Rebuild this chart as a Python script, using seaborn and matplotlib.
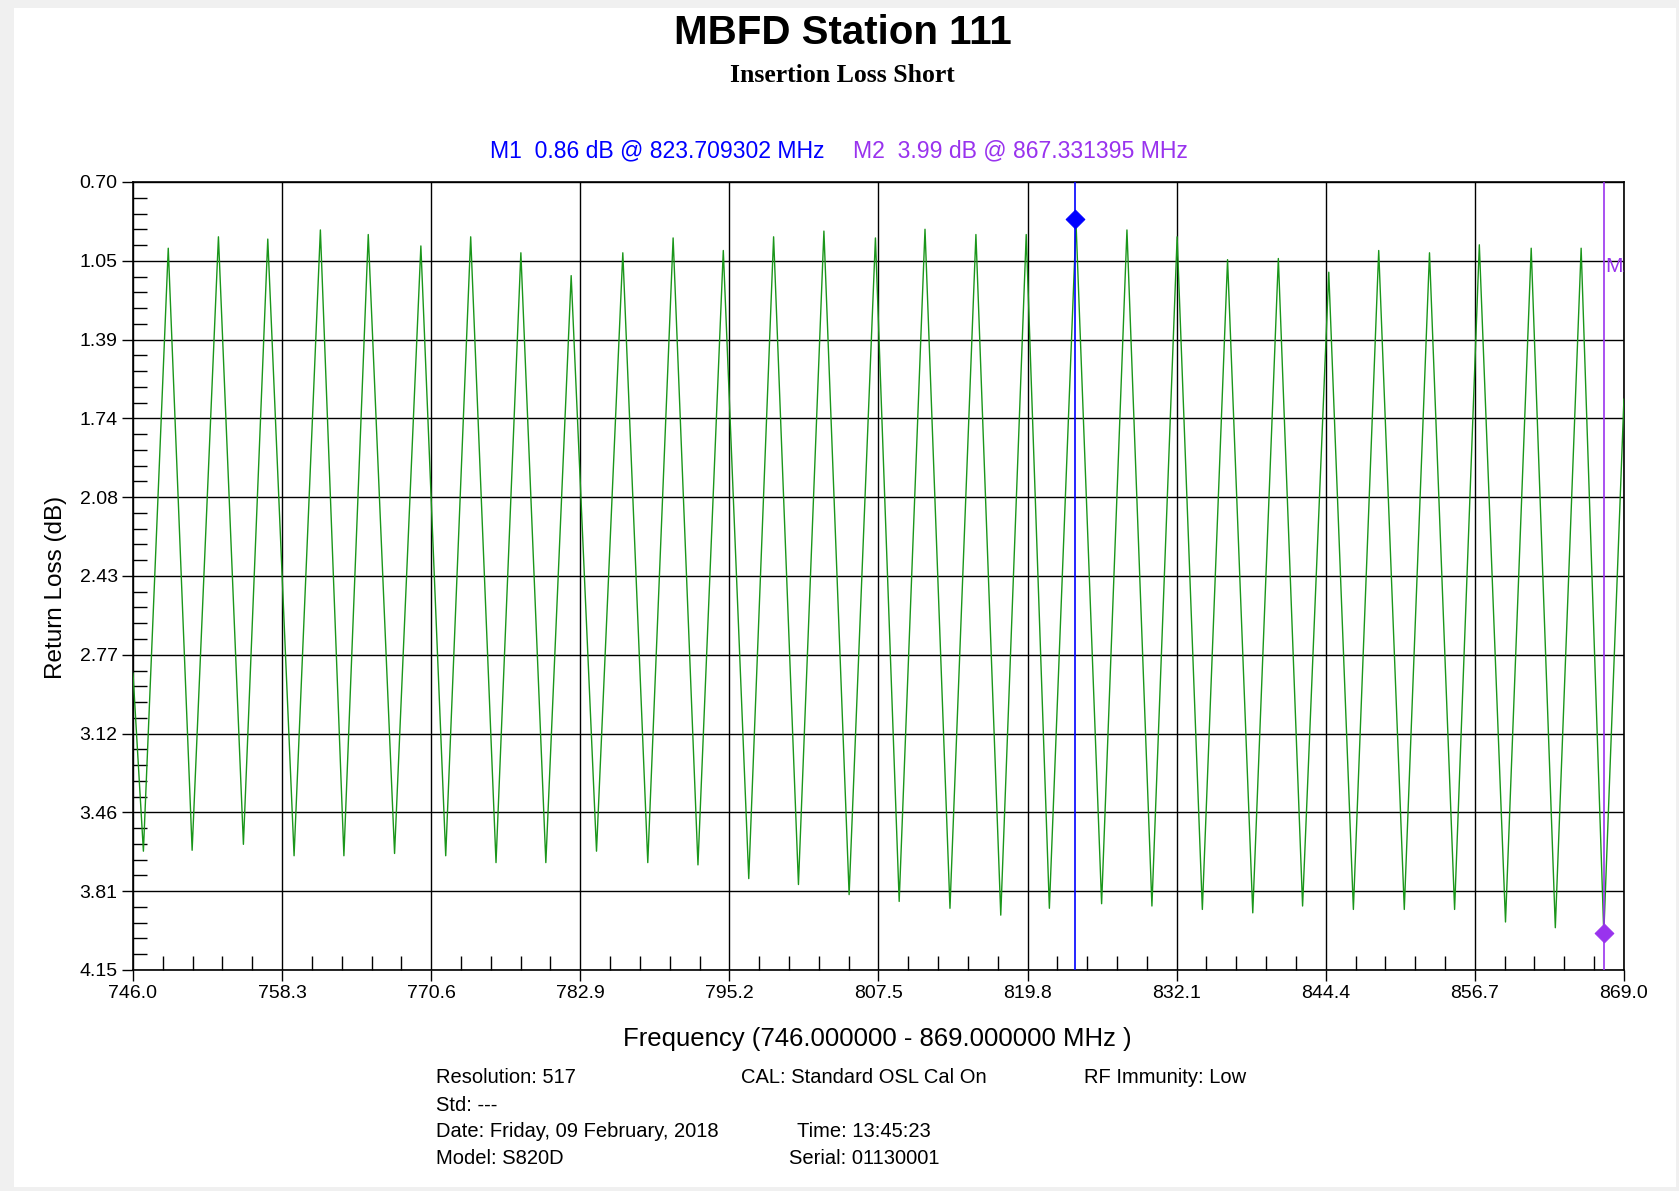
import matplotlib
matplotlib.use('Agg')
import matplotlib.pyplot as plt
from matplotlib.patches import Rectangle
from matplotlib.ticker import AutoMinorLocator
import seaborn as sns

# trace: trough / peak positions (MHz) and levels (dB)
start_freq, start_db = 746.0, 2.85
end_freq, end_db = 869.0, 1.65

trough_freq = [746.86, 750.88, 755.11, 759.29, 763.40, 767.58, 771.80, 775.95, 780.06, 784.24,
               788.47, 792.61, 796.80, 800.90, 805.08, 809.21, 813.40, 817.59, 821.60, 825.91,
               830.06, 834.22, 838.38, 842.49, 846.68, 850.88, 855.03, 859.23, 863.34, 867.34]
trough_db = [3.63, 3.626, 3.60, 3.65, 3.65, 3.64, 3.65, 3.68, 3.68, 3.63,
             3.68, 3.69, 3.75, 3.776, 3.82, 3.85, 3.88, 3.91, 3.88, 3.86,
             3.87, 3.885, 3.90, 3.87, 3.885, 3.885, 3.885, 3.94, 3.965, 3.99]

peak_freq = [748.91, 753.05, 757.12, 761.46, 765.41, 769.75, 773.86, 778.00, 782.15, 786.41,
             790.56, 794.70, 798.85, 803.00, 807.25, 811.34, 815.54, 819.69, 823.80, 828.00,
             832.14, 836.30, 840.49, 844.65, 848.77, 852.96, 857.07, 861.35, 865.47]
peak_db = [0.99, 0.94, 0.95, 0.91, 0.93, 0.98, 0.94, 1.01, 1.11, 1.01,
           0.945, 1.00, 0.94, 0.915, 0.945, 0.907, 0.93, 0.93, 0.88, 0.91,
           0.94, 1.04, 1.035, 1.095, 1.00, 1.01, 0.975, 0.99, 0.99]

x_ticks = [746.0, 758.3, 770.6, 782.9, 795.2, 807.5, 819.8, 832.1, 844.4, 856.7, 869.0]
x_labels = ['746.0', '758.3', '770.6', '782.9', '795.2', '807.5', '819.8', '832.1', '844.4', '856.7', '869.0']
y_ticks = [0.70, 1.045, 1.39, 1.735, 2.08, 2.425, 2.77, 3.115, 3.46, 3.805, 4.15]
y_labels = ['0.70', '1.05', '1.39', '1.74', '2.08', '2.43', '2.77', '3.12', '3.46', '3.81', '4.15']

m1_freq, m1_db = 823.709302, 0.86
m2_freq, m2_db = 867.331395, 3.99

footer_rows = [
    ('Resolution: 517', 'CAL: Standard OSL Cal On', 'RF Immunity: Low'),
    ('Std: ---', '', ''),
    ('Date: Friday, 09 February, 2018', 'Time: 13:45:23', ''),
    ('Model: S820D', 'Serial: 01130001', ''),
]

M1_COL = '#0000ff'
M2_COL = '#9933ee'
TRACE_COL = '#1a961a'


def build_trace():
    freqs = [start_freq]
    dbs = [start_db]
    for i in range(len(trough_freq)):
        freqs.append(trough_freq[i])
        dbs.append(trough_db[i])
        if i < len(peak_freq):
            freqs.append(peak_freq[i])
            dbs.append(peak_db[i])
    freqs.append(end_freq)
    dbs.append(end_db)
    return freqs, dbs


def main():
    sns.set_style('ticks')
    plt.rcParams['font.family'] = ['Liberation Sans', 'DejaVu Sans']
    plt.rcParams['text.color'] = 'black'
    plt.rcParams['axes.labelcolor'] = 'black'
    plt.rcParams['xtick.color'] = 'black'
    plt.rcParams['ytick.color'] = 'black'

    fig = plt.figure(figsize=(16.79, 11.91), dpi=100, facecolor='#f0f0f0')
    bg = Rectangle((0.0083, 0.0034), 0.9899, 0.9899, transform=fig.transFigure,
                   facecolor='white', edgecolor='none', zorder=-10)
    fig.add_artist(bg)

    ax = fig.add_axes([0.0792, 0.1856, 0.8880, 0.6616])
    ax.set_facecolor('white')

    freqs, dbs = build_trace()
    sns.lineplot(x=freqs, y=dbs, ax=ax, color=TRACE_COL, linewidth=1.0, estimator=None, sort=False, zorder=3)

    ax.axvline(m1_freq, color=M1_COL, lw=1.2, zorder=4)
    ax.axvline(m2_freq, color=M2_COL, lw=1.2, zorder=4)
    sns.scatterplot(x=[m1_freq], y=[m1_db], ax=ax, marker='D', s=90, color=M1_COL, edgecolor=M1_COL, zorder=5)
    sns.scatterplot(x=[m2_freq], y=[m2_db], ax=ax, marker='D', s=90, color=M2_COL, edgecolor=M2_COL, zorder=5)
    ax.text(m2_freq + 0.15, 1.07, 'M2', color=M2_COL, fontsize=15, va='center', ha='left', clip_on=True)

    ax.set_xlim(746.0, 869.0)
    ax.set_ylim(4.15, 0.70)
    ax.set_xticks(x_ticks)
    ax.set_xticklabels(x_labels)
    ax.set_yticks(y_ticks)
    ax.set_yticklabels(y_labels)
    ax.xaxis.set_minor_locator(AutoMinorLocator(5))
    ax.yaxis.set_minor_locator(AutoMinorLocator(5))
    ax.tick_params(which='major', direction='out', length=8, width=1, pad=3, labelsize=14, colors='black')
    ax.tick_params(which='minor', direction='in', length=10, width=1, colors='black')
    ax.grid(True, which='major', color='black', linewidth=1.0)
    ax.set_axisbelow(True)
    for sp in ax.spines.values():
        sp.set_color('black')
        sp.set_linewidth(1.2)

    fig.text(0.0334, 0.5071, 'Return Loss (dB)', rotation=90, ha='center', va='center', fontsize=17.5)
    fig.text(0.5223, 0.1276, 'Frequency (746.000000 - 869.000000 MHz )', ha='center', va='center', fontsize=18.5)

    fig.text(0.502, 0.9723, 'MBFD Station 111', ha='center', va='center', fontsize=29, fontweight='bold')
    fig.text(0.502, 0.9362, 'Insertion Loss Short', ha='center', va='center', fontsize=18.5,
             fontweight='bold', family=['Liberation Serif', 'DejaVu Serif'])

    fig.text(0.2918, 0.8732, 'M1  0.86 dB @ 823.709302 MHz', color=M1_COL, ha='left', va='center', fontsize=16.6)
    fig.text(0.5080, 0.8732, 'M2  3.99 dB @ 867.331395 MHz', color=M2_COL, ha='left', va='center', fontsize=16.6)

    row_y = [0.0949, 0.0722, 0.0496, 0.0277]
    for (c1, c2, c3), y in zip(footer_rows, row_y):
        fig.text(0.2597, y, c1, ha='left', va='center', fontsize=14.5)
        fig.text(0.5146, y, c2, ha='center', va='center', fontsize=14.5)
        fig.text(0.6456, y, c3, ha='left', va='center', fontsize=14.5)

    fig.savefig('out.png', dpi=100, facecolor=fig.get_facecolor())
    plt.close(fig)


if __name__ == "__main__":
    main()
